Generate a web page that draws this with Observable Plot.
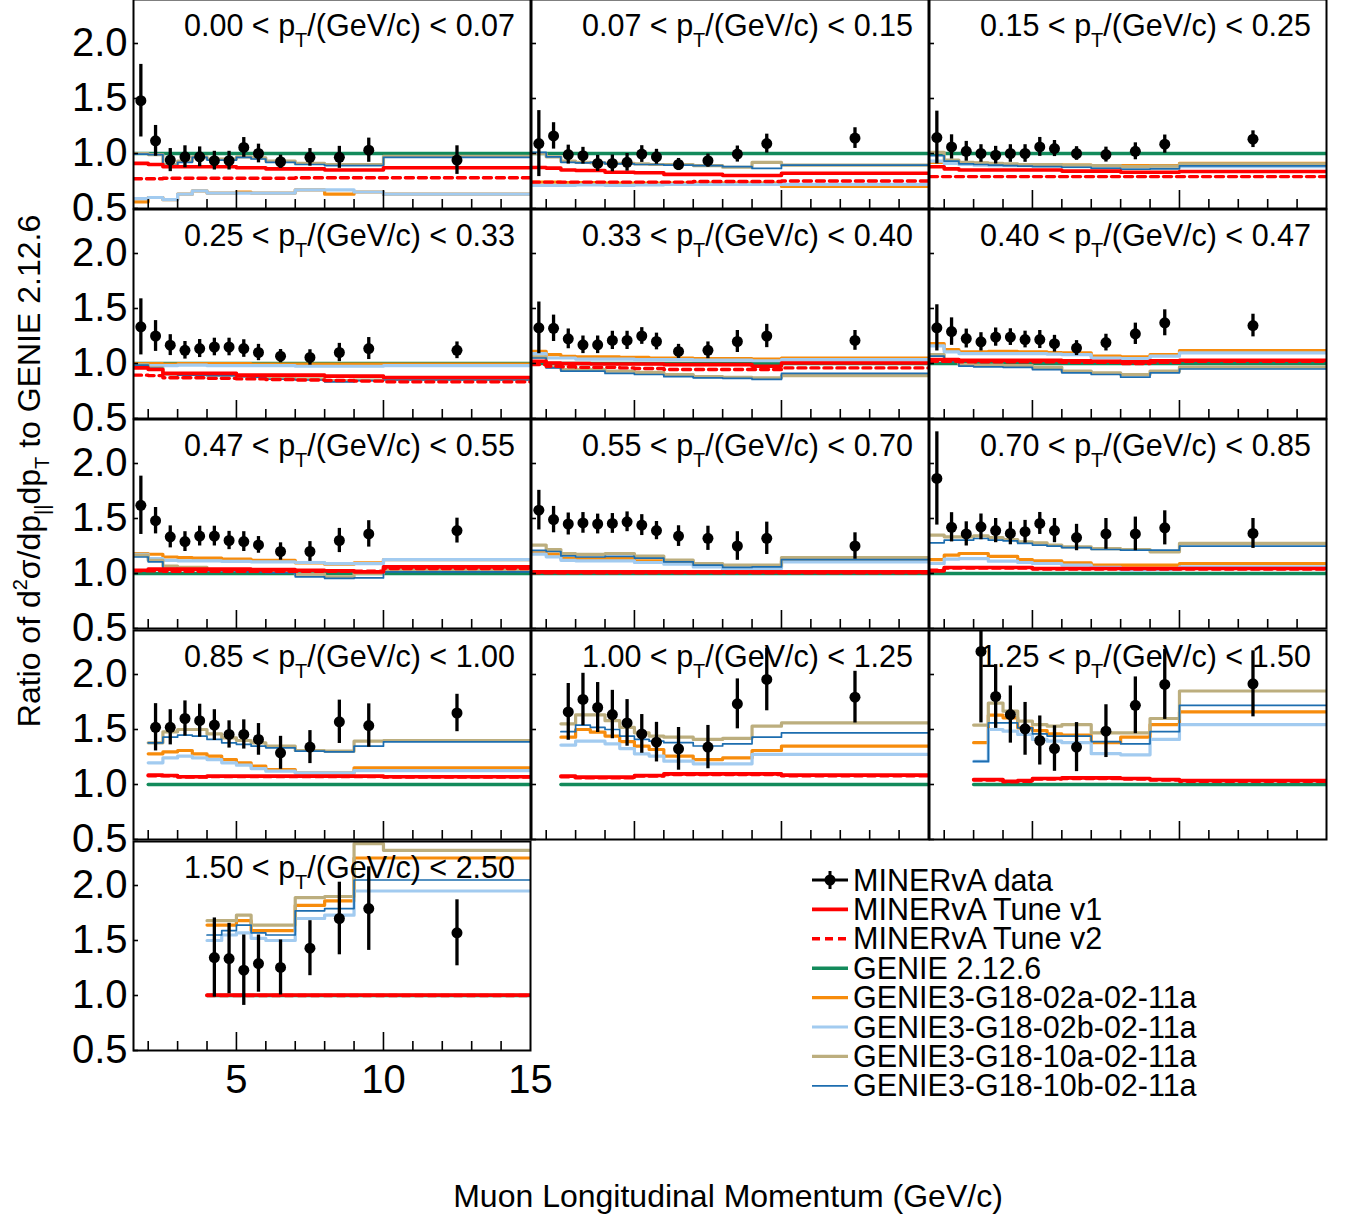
<!DOCTYPE html>
<html><head><meta charset="utf-8">
<script src="https://cdn.jsdelivr.net/npm/d3@7"></script>
<script src="https://cdn.jsdelivr.net/npm/@observablehq/plot@0.6"></script>
<style>
html,body{margin:0;padding:0;background:#fff;}
#root{position:relative;width:1353px;height:1218px;overflow:hidden;font-family:"Liberation Sans",Arial,Helvetica,sans-serif;}
#root svg{overflow:visible;}
</style></head>
<body><div id="root"></div>
<script>
// ---------- DATA ----------
const edges = [1.5,2,2.5,3,3.5,4,4.5,5,5.5,6,7,8,9,10,15];
const ptLow  = ["0.00","0.07","0.15","0.25","0.33","0.40","0.47","0.55","0.70","0.85","1.00","1.25","1.50"];
const ptHigh = ["0.07","0.15","0.25","0.33","0.40","0.47","0.55","0.70","0.85","1.00","1.25","1.50","2.50"];
const firstBin = [0,0,0,0,0,0,0,0,0,1,2,3,5];
const xTickLabels = [5,10,15];
const yTickLabels = [0.5,1.0,1.5,2.0];
const xMinorTicks = [2,3,4,6,7,8,9,11,12,13,14];
const xMajorTicks = [5,10];

const dataRatio = [
 [1.48,1.115,0.94,0.97,0.97,0.935,0.935,1.055,1.0,0.925,0.965,0.965,1.03,0.94],
 [1.09,1.16,0.99,0.98,0.91,0.91,0.92,0.995,0.97,0.90,0.935,0.995,1.09,1.14],
 [1.145,1.06,1.02,1.0,0.985,1.0,1.0,1.06,1.045,1.0,0.99,1.02,1.085,1.13],
 [1.333,1.25,1.167,1.12,1.136,1.15,1.15,1.136,1.1,1.067,1.055,1.1,1.136,1.12],
 [1.324,1.32,1.224,1.17,1.17,1.21,1.21,1.25,1.2,1.11,1.12,1.2,1.25,1.21],
 [1.324,1.29,1.227,1.197,1.24,1.24,1.218,1.218,1.18,1.14,1.19,1.27,1.37,1.345],
 [1.62,1.48,1.333,1.29,1.34,1.34,1.3,1.29,1.26,1.2,1.2,1.3,1.36,1.39],
 [1.576,1.49,1.45,1.46,1.45,1.455,1.47,1.44,1.39,1.34,1.32,1.25,1.32,1.25],
 [1.864,1.42,1.36,1.424,1.39,1.364,1.38,1.455,1.39,1.327,1.36,1.36,1.415,1.364],
 [1.52,1.52,1.6,1.58,1.54,1.455,1.455,1.41,1.288,1.34,1.57,1.536,1.65],
 [1.66,1.773,1.7,1.636,1.56,1.46,1.385,1.324,1.34,1.733,1.955,1.794],
 [2.21,1.8,1.636,1.506,1.4,1.327,1.34,1.485,1.72,1.91,1.915],
 [1.345,1.336,1.23,1.29,1.255,1.43,1.7,1.79,1.57]
];
const dataError = [
 [0.33,0.14,0.105,0.10,0.09,0.085,0.085,0.09,0.085,0.06,0.08,0.10,0.11,0.13],
 [0.30,0.12,0.086,0.076,0.073,0.076,0.08,0.076,0.068,0.055,0.06,0.073,0.086,0.094],
 [0.24,0.11,0.09,0.08,0.08,0.08,0.08,0.086,0.073,0.062,0.068,0.077,0.083,0.076],
 [0.255,0.14,0.095,0.08,0.082,0.08,0.08,0.08,0.074,0.06,0.07,0.083,0.1,0.076],
 [0.235,0.12,0.09,0.08,0.08,0.083,0.083,0.076,0.076,0.064,0.076,0.1,0.106,0.09],
 [0.21,0.125,0.086,0.083,0.083,0.076,0.076,0.082,0.076,0.068,0.076,0.097,0.118,0.103],
 [0.265,0.12,0.1,0.09,0.09,0.09,0.083,0.09,0.076,0.079,0.09,0.11,0.12,0.113],
 [0.18,0.12,0.1,0.094,0.09,0.09,0.09,0.095,0.083,0.094,0.11,0.13,0.147,0.12],
 [0.424,0.133,0.11,0.117,0.11,0.103,0.103,0.1,0.11,0.12,0.14,0.153,0.155,0.136],
 [0.215,0.16,0.16,0.15,0.14,0.124,0.133,0.144,0.15,0.15,0.197,0.197,0.17],
 [0.258,0.238,0.227,0.22,0.212,0.176,0.18,0.194,0.197,0.227,0.285,0.235],
 [0.65,0.29,0.26,0.24,0.223,0.207,0.223,0.24,0.258,0.318,0.3],
 [0.36,0.32,0.32,0.26,0.25,0.25,0.33,0.38,0.3]
];
const tuneV1 = [
 [0.91,0.90,0.88,0.88,0.88,0.88,0.88,0.87,0.87,0.86,0.86,0.85,0.85,0.87],
 [0.873,0.867,0.85,0.845,0.845,0.83,0.83,0.825,0.825,0.81,0.81,0.80,0.80,0.82],
 [0.88,0.86,0.85,0.85,0.85,0.85,0.85,0.85,0.85,0.84,0.84,0.83,0.83,0.836],
 [0.96,0.945,0.91,0.91,0.91,0.91,0.91,0.894,0.894,0.894,0.894,0.885,0.885,0.873],
 [1.02,1.005,1.0,1.0,0.995,0.995,0.995,0.995,0.995,0.99,0.99,0.99,0.975,1.005],
 [1.036,1.036,1.03,1.03,1.03,1.03,1.03,1.03,1.03,1.025,1.02,1.015,1.025,1.03],
 [1.03,1.04,1.04,1.04,1.04,1.04,1.04,1.04,1.035,1.035,1.03,1.025,1.015,1.06],
 [1.015,1.015,1.015,1.015,1.015,1.015,1.015,1.015,1.015,1.015,1.015,1.015,1.015,1.015],
 [1.024,1.055,1.055,1.055,1.055,1.055,1.055,1.045,1.045,1.045,1.045,1.045,1.045,1.045],
 [1.085,1.082,1.07,1.07,1.076,1.076,1.076,1.076,1.076,1.076,1.076,1.076,1.07],
 [1.076,1.067,1.067,1.067,1.067,1.082,1.082,1.097,1.097,1.097,1.097,1.085],
 [1.045,1.045,1.03,1.036,1.055,1.055,1.06,1.06,1.055,1.045,1.036],
 [1.005,1.005,1.005,1.005,1.005,1.005,1.005,1.005,1.005]
];
const tuneV2 = [
 [0.77,0.77,0.775,0.775,0.775,0.775,0.775,0.775,0.775,0.775,0.78,0.78,0.78,0.78],
 [0.74,0.74,0.74,0.74,0.74,0.74,0.74,0.74,0.74,0.74,0.745,0.745,0.745,0.75],
 [0.79,0.79,0.79,0.79,0.79,0.79,0.79,0.79,0.79,0.79,0.79,0.79,0.79,0.79],
 [0.894,0.89,0.87,0.87,0.87,0.865,0.865,0.86,0.86,0.855,0.85,0.845,0.84,0.833],
 [0.99,0.975,0.97,0.965,0.965,0.965,0.96,0.955,0.955,0.945,0.945,0.945,0.945,0.96],
 [1.02,1.02,1.015,1.015,1.015,1.015,1.015,1.015,1.015,1.01,1.01,1.0,1.01,1.02],
 [1.024,1.024,1.02,1.02,1.02,1.02,1.02,1.02,1.02,1.02,1.02,1.02,1.02,1.045],
 [1.006,1.006,1.006,1.006,1.006,1.006,1.006,1.006,1.006,1.006,1.006,1.006,1.006,1.006],
 [1.03,1.05,1.05,1.05,1.05,1.05,1.05,1.04,1.04,1.04,1.04,1.04,1.04,1.04],
 [1.08,1.078,1.068,1.068,1.072,1.072,1.072,1.072,1.072,1.072,1.072,1.072,1.068],
 [1.07,1.06,1.06,1.06,1.06,1.076,1.076,1.09,1.09,1.09,1.09,1.08],
 [1.04,1.04,1.025,1.03,1.05,1.05,1.055,1.055,1.05,1.04,1.03],
 [1.0,1.0,1.0,1.0,1.0,1.0,1.0,1.0,1.0]
];
const genie2126 = [
 [1,1,1,1,1,1,1,1,1,1,1,1,1,1],[1,1,1,1,1,1,1,1,1,1,1,1,1,1],[1,1,1,1,1,1,1,1,1,1,1,1,1,1],
 [1,1,1,1,1,1,1,1,1,1,1,1,1,1],[1,1,1,1,1,1,1,1,1,1,1,1,1,1],[1,1,1,1,1,1,1,1,1,1,1,1,1,1],
 [1,1,1,1,1,1,1,1,1,1,1,1,1,1],[1,1,1,1,1,1,1,1,1,1,1,1,1,1],[1,1,1,1,1,1,1,1,1,1,1,1,1,1],
 [1,1,1,1,1,1,1,1,1,1,1,1,1],[1,1,1,1,1,1,1,1,1,1,1,1],[1,1,1,1,1,1,1,1,1,1,1],[1,1,1,1,1,1,1,1,1]
];
const g18_02a = [
 [0.56,0.6,0.58,0.63,0.66,0.64,0.64,0.65,0.64,0.64,0.67,0.63,0.65,0.63],
 [0.74,0.74,0.735,0.735,0.735,0.73,0.73,0.73,0.73,0.73,0.73,0.73,0.73,0.70],
 [0.92,0.92,0.91,0.91,0.9,0.9,0.9,0.9,0.9,0.895,0.89,0.89,0.89,0.91],
 [1.0,1.0,0.995,1.0,1.0,1.0,1.0,1.0,0.995,0.995,0.995,0.995,0.995,0.995],
 [1.11,1.08,1.065,1.06,1.06,1.06,1.055,1.055,1.05,1.05,1.045,1.045,1.04,1.05],
 [1.18,1.127,1.106,1.106,1.11,1.11,1.106,1.106,1.1,1.097,1.067,1.06,1.08,1.118],
 [1.18,1.175,1.15,1.145,1.14,1.14,1.13,1.13,1.12,1.12,1.097,1.085,1.097,1.127],
 [1.188,1.176,1.136,1.136,1.136,1.136,1.136,1.115,1.115,1.097,1.076,1.045,1.06,1.115],
 [1.127,1.167,1.182,1.182,1.155,1.155,1.127,1.115,1.115,1.097,1.076,1.076,1.076,1.091],
 [1.279,1.297,1.309,1.279,1.258,1.227,1.197,1.167,1.136,1.106,1.106,1.152,1.152],
 [1.43,1.5,1.476,1.44,1.39,1.348,1.318,1.258,1.227,1.242,1.309,1.348],
 [1.38,1.63,1.606,1.515,1.49,1.46,1.45,1.38,1.43,1.545,1.66],
 [1.64,1.64,1.68,1.59,1.59,1.82,1.86,2.25,2.25]
];
const g18_02b = [
 [0.59,0.6,0.58,0.63,0.66,0.64,0.64,0.64,0.64,0.64,0.67,0.67,0.65,0.63],
 [0.71,0.71,0.71,0.715,0.715,0.71,0.71,0.715,0.715,0.72,0.72,0.72,0.72,0.72],
 [0.93,0.91,0.9,0.895,0.89,0.89,0.89,0.89,0.89,0.88,0.875,0.87,0.875,0.88],
 [0.985,0.98,0.98,0.985,0.985,0.98,0.98,0.98,0.98,0.98,0.975,0.975,0.975,0.98],
 [1.09,1.05,1.05,1.04,1.04,1.04,1.04,1.035,1.035,1.035,1.03,1.03,1.025,1.035],
 [1.16,1.106,1.09,1.09,1.09,1.09,1.09,1.09,1.085,1.08,1.05,1.045,1.067,1.097],
 [1.175,1.136,1.12,1.115,1.115,1.115,1.11,1.11,1.106,1.106,1.1,1.09,1.09,1.127],
 [1.176,1.152,1.12,1.115,1.115,1.115,1.115,1.1,1.1,1.085,1.06,1.036,1.045,1.106],
 [1.091,1.13,1.136,1.136,1.112,1.112,1.1,1.091,1.091,1.076,1.055,1.03,1.036,1.06],
 [1.197,1.242,1.258,1.242,1.227,1.197,1.176,1.145,1.121,1.106,1.106,1.127,1.127],
 [1.358,1.394,1.394,1.37,1.327,1.279,1.258,1.212,1.188,1.188,1.273,1.273],
 [1.21,1.5,1.485,1.455,1.41,1.394,1.38,1.28,1.27,1.41,1.545],
 [1.5,1.55,1.57,1.52,1.5,1.7,1.73,1.95,1.95]
];
const g18_10a = [
 [1.0,0.99,0.9,0.93,0.97,0.95,0.95,0.97,0.96,0.93,0.91,0.9,0.9,0.975],
 [1.0,0.97,0.93,0.92,0.915,0.91,0.91,0.905,0.9,0.9,0.89,0.875,0.92,0.895],
 [1.01,0.94,0.92,0.915,0.91,0.905,0.9,0.9,0.9,0.895,0.89,0.88,0.885,0.905],
 [0.99,0.96,0.905,0.9,0.9,0.895,0.895,0.885,0.88,0.865,0.86,0.845,0.85,0.855],
 [1.06,0.97,0.945,0.945,0.945,0.93,0.93,0.92,0.92,0.9,0.88,0.875,0.87,0.89],
 [1.08,1.036,0.99,0.985,0.985,0.98,0.98,0.965,0.965,0.93,0.915,0.9,0.93,0.967],
 [1.167,1.12,1.067,1.055,1.055,1.036,1.036,1.03,1.03,1.024,0.995,0.97,1.0,1.03],
 [1.258,1.218,1.182,1.173,1.173,1.182,1.182,1.158,1.158,1.121,1.091,1.076,1.076,1.145],
 [1.348,1.333,1.333,1.342,1.327,1.309,1.288,1.279,1.258,1.242,1.227,1.218,1.197,1.273],
 [1.379,1.479,1.5,1.5,1.46,1.424,1.4,1.379,1.348,1.309,1.303,1.394,1.4],
 [1.552,1.633,1.633,1.58,1.52,1.47,1.44,1.43,1.41,1.42,1.53,1.56],
 [1.54,1.74,1.667,1.576,1.545,1.53,1.545,1.47,1.47,1.6,1.85],
 [1.68,1.68,1.73,1.64,1.64,1.89,1.9,2.38,2.32]
];
const g18_10b = [
 [0.995,0.99,0.89,0.92,0.965,0.94,0.94,0.965,0.95,0.92,0.9,0.89,0.89,0.965],
 [1.01,0.97,0.92,0.915,0.92,0.905,0.905,0.9,0.9,0.894,0.89,0.88,0.864,0.894],
 [0.98,0.93,0.905,0.9,0.895,0.89,0.885,0.88,0.88,0.875,0.865,0.857,0.86,0.888],
 [0.985,0.955,0.9,0.895,0.895,0.89,0.89,0.88,0.875,0.857,0.85,0.833,0.845,0.85],
 [1.05,0.96,0.93,0.93,0.93,0.91,0.91,0.9,0.9,0.88,0.87,0.865,0.855,0.91],
 [1.067,1.02,0.976,0.97,0.97,0.965,0.965,0.945,0.945,0.915,0.9,0.876,0.915,0.95],
 [1.15,1.106,1.045,1.036,1.036,1.024,1.024,1.015,1.015,1.006,0.97,0.955,0.96,1.015],
 [1.21,1.2,1.16,1.15,1.15,1.155,1.155,1.14,1.14,1.105,1.076,1.055,1.06,1.127],
 [1.279,1.303,1.303,1.318,1.303,1.297,1.273,1.258,1.248,1.236,1.218,1.212,1.212,1.248],
 [1.379,1.43,1.448,1.44,1.41,1.379,1.364,1.348,1.333,1.303,1.297,1.348,1.388],
 [1.48,1.54,1.52,1.5,1.44,1.41,1.394,1.38,1.35,1.37,1.43,1.47],
 [1.21,1.56,1.56,1.515,1.46,1.44,1.44,1.39,1.37,1.48,1.72],
 [1.55,1.59,1.64,1.57,1.55,1.77,1.79,2.05,2.05]
];

const legendNames = ["MINERvA data","MINERvA Tune v1","MINERvA Tune v2","GENIE 2.12.6",
  "GENIE3-G18-02a-02-11a","GENIE3-G18-02b-02-11a","GENIE3-G18-10a-02-11a","GENIE3-G18-10b-02-11a"];

// ---------- STYLE ----------
const FONT = '"Liberation Sans", Arial, Helvetica, sans-serif';
const C = {v1:"#ff0000", v2:"#ff0000", g2:"#138a5b", a02:"#f78c0c", b02:"#a2cbf0", a10:"#bcae7e", b10:"#1d6daf"};
const models = [
  {vals: genie2126, color: C.g2,  w: 3.4},
  {vals: g18_02a,   color: C.a02, w: 3.2},
  {vals: g18_02b,   color: C.b02, w: 3.2},
  {vals: g18_10a,   color: C.a10, w: 3.2},
  {vals: g18_10b,   color: C.b10, w: 1.7},
  {vals: tuneV2,    color: C.v2,  w: 3.4, dash: "8,5"},
  {vals: tuneV1,    color: C.v1,  w: 3.6}
];
const colLeft = [133, 531, 929];
const rowTop = [-1, 209, 419, 630, 841];
const PW = 397, PH = 209;
const YD = [0.5, 2.4];
const pxPerY = PH / (YD[1]-YD[0]);
const pxPerX = PW / (15-1.5);

const root = document.getElementById("root");

function stepRows(vals, start) {
  const rows = vals.map((v, i) => ({x: edges[start + i], y: v}));
  rows.push({x: edges[start + vals.length], y: vals[vals.length - 1]});
  return rows;
}

for (let i = 0; i < 13; i++) {
  const col = i % 3, row = Math.floor(i / 3);
  const isLeft = col === 0, isBottom = i === 12;
  const ml = isLeft ? colLeft[col] : 2, mr = 2, mt = 2, mb = isBottom ? 80 : 2;
  const start = firstBin[i];
  const pts = dataRatio[i].map((v, k) => ({
    x: (edges[start + k] + edges[start + k + 1]) / 2,
    y: v, lo: v - dataError[i][k], hi: v + dataError[i][k]
  }));
  const marks = [];
  for (const m of models) {
    marks.push(Plot.line(stepRows(m.vals[i], start), {
      x: "x", y: "y", curve: "step-after", stroke: m.color, strokeWidth: m.w,
      strokeDasharray: m.dash, clip: true
    }));
  }
  marks.push(Plot.ruleX(pts, {x: "x", y1: "lo", y2: "hi", stroke: "#000", strokeWidth: 3.3, clip: true}));
  marks.push(Plot.dot(pts, {x: "x", y: "y", r: 5.5, fill: "#000", stroke: null, clip: true}));
  // axis ticks (inside the frame)
  marks.push(Plot.ruleX(xMinorTicks, {x: d => d, y1: YD[0], y2: YD[0] + 9 / pxPerY, stroke: "#000", strokeWidth: 1.6}));
  marks.push(Plot.ruleX(xMajorTicks, {x: d => d, y1: YD[0], y2: YD[0] + 18 / pxPerY, stroke: "#000", strokeWidth: 1.6}));
  marks.push(Plot.ruleY(yTickLabels, {y: d => d, x1: 1.5, x2: 1.5 + 5 / pxPerX, stroke: "#000", strokeWidth: 1.6}));
  marks.push(Plot.frame({stroke: "#000", strokeWidth: 2}));

  const p = Plot.plot({
    width: PW + ml + mr, height: PH + mt + mb,
    marginLeft: ml, marginRight: mr, marginTop: mt, marginBottom: mb,
    x: {domain: [1.5, 15], axis: isBottom ? "bottom" : null, ticks: xTickLabels, tickSize: 0, tickPadding: 14, label: null},
    y: {domain: YD, axis: isLeft ? "left" : null, ticks: yTickLabels, tickSize: 0, tickPadding: 6,
        tickFormat: d => d.toFixed(1), label: null},
    style: {background: "transparent", fontSize: "40px", fontFamily: FONT, color: "#000"},
    marks
  });
  p.style.position = "absolute";
  p.style.left = (colLeft[col] - ml) + "px";
  p.style.top = (rowTop[row] - mt) + "px";
  p.style.maxWidth = "none";
  root.appendChild(p);
}

// ---------- TEXT OVERLAY ----------
const ov = d3.select(root).append("svg")
  .attr("width", 1353).attr("height", 1218)
  .style("position", "absolute").style("left", "0px").style("top", "0px")
  .style("pointer-events", "none")
  .attr("font-family", FONT).attr("fill", "#000");

for (let i = 0; i < 13; i++) {
  const col = i % 3, row = Math.floor(i / 3);
  const t = ov.append("text")
    .attr("x", colLeft[col] + PW - 15).attr("y", rowTop[row] + 37)
    .attr("text-anchor", "end").attr("font-size", 30.5);
  t.append("tspan").text(`${ptLow[i]} < p`);
  t.append("tspan").attr("font-size", 20).attr("dy", 11).text("T");
  t.append("tspan").attr("dy", -11).text(`/(GeV/c) < ${ptHigh[i]}`);
}

// y title
{
  const t = ov.append("text").attr("transform", "translate(40,471) rotate(-90)")
    .attr("text-anchor", "middle").attr("font-size", 32);
  t.append("tspan").text("Ratio of d");
  t.append("tspan").attr("font-size", 20).attr("dy", -13).text("2");
  t.append("tspan").attr("dy", 13).text("σ/dp");
  t.append("tspan").attr("font-size", 20).attr("dy", 9).text("||");
  t.append("tspan").attr("dy", -9).text("dp");
  t.append("tspan").attr("font-size", 20).attr("dy", 9).text("T");
  t.append("tspan").attr("dy", -9).text(" to GENIE 2.12.6");
}
// x title
ov.append("text").attr("x", 728).attr("y", 1207).attr("text-anchor", "middle")
  .attr("font-size", 32).text("Muon Longitudinal Momentum (GeV/c)");

// legend
const legStyles = [
  {color: "#000", w: 3, data: true},
  {color: C.v1, w: 3.6},
  {color: C.v2, w: 3.4, dash: "8,5"},
  {color: C.g2, w: 3.4},
  {color: C.a02, w: 3.2},
  {color: C.b02, w: 3.2},
  {color: C.a10, w: 3.2},
  {color: C.b10, w: 1.7}
];
legendNames.forEach((name, k) => {
  const y = 880 + k * 29.4;
  const s = legStyles[k];
  ov.append("line").attr("x1", 812).attr("x2", 848).attr("y1", y).attr("y2", y)
    .attr("stroke", s.color).attr("stroke-width", s.w).attr("stroke-dasharray", s.dash || null);
  if (s.data) {
    ov.append("line").attr("x1", 830).attr("x2", 830).attr("y1", y - 9).attr("y2", y + 9)
      .attr("stroke", "#000").attr("stroke-width", 3);
    ov.append("circle").attr("cx", 830).attr("cy", y).attr("r", 5.5).attr("fill", "#000");
  }
  ov.append("text").attr("x", 853).attr("y", y + 10.5).attr("font-size", 30.5).text(name);
});
</script>
</body></html>
